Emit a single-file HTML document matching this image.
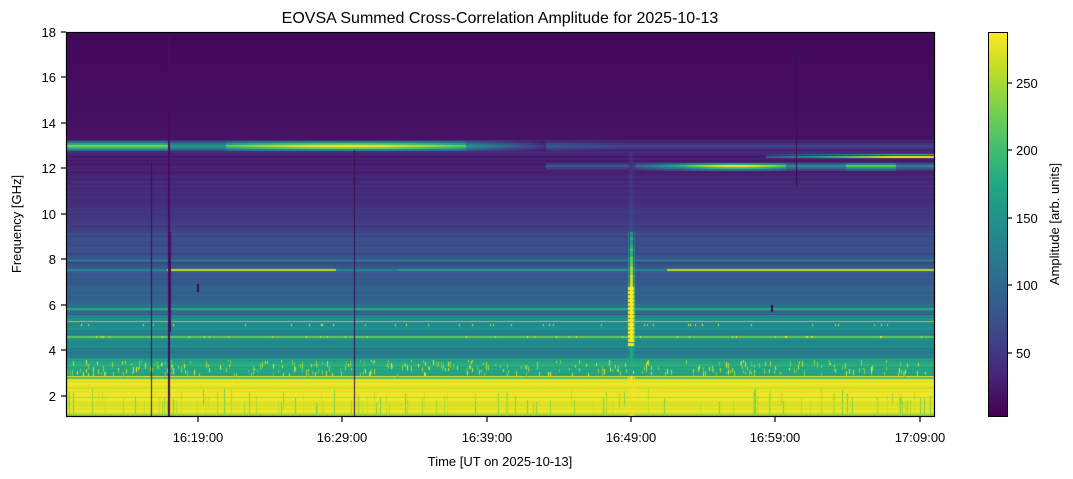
<!DOCTYPE html>
<html><head><meta charset="utf-8"><style>
body{margin:0;background:#fff;width:1073px;height:479px;overflow:hidden;font-family:"Liberation Sans","DejaVu Sans",sans-serif;}
#c{position:absolute;left:66px;top:32px;}
#cb{position:absolute;left:988px;top:32px;}
svg{position:absolute;left:0;top:0;}
</style></head><body>
<canvas id="c" width="868" height="385"></canvas>
<canvas id="cb" width="20" height="385"></canvas>
<svg width="1073" height="479" font-size="13" fill="#000">
<text x="500" y="23" text-anchor="middle" font-size="16">EOVSA Summed Cross-Correlation Amplitude for 2025-10-13</text>
<rect x="66.5" y="32.5" width="868" height="384" fill="none" stroke="#000" stroke-width="1.2"/>
<rect x="988.5" y="32.5" width="19" height="384" fill="none" stroke="#000" stroke-width="1"/>
<g stroke="#000" stroke-width="1.2">
<line x1="61" x2="66" y1="32" y2="32"/><line x1="61" x2="66" y1="77" y2="77"/><line x1="61" x2="66" y1="123" y2="123"/><line x1="61" x2="66" y1="168" y2="168"/><line x1="61" x2="66" y1="214" y2="214"/><line x1="61" x2="66" y1="259" y2="259"/><line x1="61" x2="66" y1="305" y2="305"/><line x1="61" x2="66" y1="350" y2="350"/><line x1="61" x2="66" y1="396" y2="396"/>
<line x1="198" x2="198" y1="417" y2="422"/><line x1="342" x2="342" y1="417" y2="422"/><line x1="487" x2="487" y1="417" y2="422"/><line x1="631" x2="631" y1="417" y2="422"/><line x1="775" x2="775" y1="417" y2="422"/><line x1="920" x2="920" y1="417" y2="422"/>
<line x1="1008" x2="1012" y1="83" y2="83"/><line x1="1008" x2="1012" y1="150" y2="150"/><line x1="1008" x2="1012" y1="218" y2="218"/><line x1="1008" x2="1012" y1="285" y2="285"/><line x1="1008" x2="1012" y1="353" y2="353"/>
</g>
<g text-anchor="end">
<text x="56" y="37">18</text><text x="56" y="82">16</text><text x="56" y="128">14</text><text x="56" y="173">12</text><text x="56" y="219">10</text><text x="56" y="264">8</text><text x="56" y="310">6</text><text x="56" y="355">4</text><text x="56" y="401">2</text>
</g>
<g text-anchor="middle">
<text x="198" y="442">16:19:00</text><text x="342" y="442">16:29:00</text><text x="487" y="442">16:39:00</text><text x="631" y="442">16:49:00</text><text x="775" y="442">16:59:00</text><text x="920" y="442">17:09:00</text>
<text x="500" y="466">Time [UT on 2025-10-13]</text>
</g>
<text transform="translate(21,224) rotate(-90)" text-anchor="middle">Frequency [GHz]</text>
<g>
<text x="1016" y="88">250</text><text x="1016" y="155">200</text><text x="1016" y="223">150</text><text x="1016" y="290">100</text><text x="1016" y="358">50</text>
</g>
<text transform="translate(1059,224) rotate(-90)" text-anchor="middle">Amplitude [arb. units]</text>
</svg>
<script>
const S=[[68,1,84],[72,35,116],[64,67,135],[52,94,141],[41,120,142],[32,144,140],[34,167,132],[68,190,112],[121,209,81],[189,222,38],[253,231,37]];
function vir(t){t=Math.max(0,Math.min(1,t));const p=t*10,i=Math.min(9,Math.floor(p)),f=p-i,a=S[i],b=S[i+1];return `rgb(${a[0]+(b[0]-a[0])*f|0},${a[1]+(b[1]-a[1])*f|0},${a[2]+(b[2]-a[2])*f|0})`;}
let s=12345;function r(){s=(s*1103515245+12345)&0x7fffffff;return s/0x7fffffff;}
const W=868,H=385,c=document.getElementById('c').getContext('2d');
function base(y){
 if(y<108)return 0.02+y*0.0003;
 if(y<124)return 0.08+r()*0.08;
 if(y<200)return 0.05+(y-124)*0.0015+r()*0.05;
 if(y<268)return 0.18+(y-200)*0.0016+r()*0.08;
 if(y<282)return 0.32+r()*0.08;
 if(y<315)return 0.4+r()*0.15;
 if(y<326)return 0.38+r()*0.08;
 if(y<344)return 0.5+r()*0.15;
 return 0.94+r()*0.06;}
const rows=[];
for(let y=0;y<H;y++){const v=base(y);rows.push(v);c.fillStyle=vir(v);c.fillRect(0,y,W,1);}
[[154,0.15],[221,0.2],[230,0.2],[282,0.2],[247,0.25]].forEach(([y,v])=>{c.fillStyle=vir(v);c.fillRect(0,y,W,1);});
// 13 GHz band (fuzzy)
for(let x=0;x<W;x++){let v;
 if(x<104)v=0.8;else if(x<160)v=0.55;else if(x<400)v=0.75+0.25*Math.sin((x-160)/76);else if(x<480)v=0.55-(x-400)/200;else v=Math.max(0.2,0.3-(x-480)/800);
 c.fillStyle=vir(v*0.45);c.fillRect(x,109,1,2);c.fillStyle=vir(v*0.75);c.fillRect(x,111,1,2);
 c.fillStyle=vir(v);c.fillRect(x,113,1,2);c.fillStyle=vir(v*0.8);c.fillRect(x,115,1,2);c.fillStyle=vir(v*0.5);c.fillRect(x,117,1,2);}
// 12 GHz band right
for(let x=480;x<W;x++){let v=0.28;
 if(x>560&&x<620)v=0.28+(x-560)/150;if(x>=620&&x<720)v=0.7+0.3*Math.sin((x-620)/32);if(x>=720&&x<780)v=0.5;if(x>=780&&x<830)v=0.75;if(x>=830)v=0.45;
 c.fillStyle=vir(v*0.6);c.fillRect(x,131,1,2);c.fillStyle=vir(v);c.fillRect(x,133,1,2);c.fillStyle=vir(v*0.7);c.fillRect(x,135,1,2);c.fillStyle=vir(v*0.4);c.fillRect(x,137,1,2);}
for(let x=700;x<W;x++){const v=Math.min(1,0.3+(x-700)/180);c.fillStyle=vir(v*0.7);c.fillRect(x,122,1,1);c.fillStyle=vir(v);c.fillRect(x,124,1,2);}
// 7.5 GHz line
for(let x=0;x<W;x++){let v=0.45;if(x>100&&x<270)v=0.9;if(x>330&&x<560)v=0.55;if(x>600)v=0.9;c.fillStyle=vir(v);c.fillRect(x,237,1,2);}
c.fillStyle=vir(0.5);c.fillRect(0,228,W,1);
c.fillStyle=vir(0.85);c.fillRect(0,289,W,1);c.fillStyle=vir(0.75);c.fillRect(0,304,W,2);
c.fillStyle=vir(0.62);c.fillRect(0,276,W,2);
// speckles
for(let i=0;i<350;i++){const x=r()*W|0,y=328+r()*14|0;c.fillStyle=vir(0.75+r()*0.25);c.fillRect(x,y,1,2+r()*4);}
for(let i=0;i<80;i++){const x=r()*W|0,y=[292,304][i%2];c.fillStyle=vir(0.9+r()*0.1);c.fillRect(x,y,1,2);}
c.fillStyle=vir(0.7);c.fillRect(0,345,W,2);c.fillStyle=vir(0.95);c.fillRect(0,349,W,2);
for(let x=0;x<W;x+=3){c.fillStyle=vir(1);if(r()<0.4)c.fillRect(x,353,1,1);}
// bottom stripes
for(let i=0;i<110;i++){const x=r()*W|0;c.fillStyle=vir(0.78+r()*0.15);c.fillRect(x,356+r()*15,1,10+r()*25);}
for(let y=356;y<H;y+=7+r()*8|0){c.fillStyle=vir(0.85+r()*0.08);c.fillRect(0,y,W,1);}
c.fillStyle=vir(0.82);c.fillRect(0,H-3,W,3);
// burst
for(let y=120;y<H;y++){let v;
 if(y<200)v=rows[y]+0.05;else if(y<310)v=Math.min(1,rows[y]+0.25+(y-200)/120+(r()-0.5)*0.2);else v=Math.max(rows[y],0.6);
 c.fillStyle=vir(v);c.fillRect(564,y,3,1);c.fillStyle=vir((v+rows[y])/2);c.fillRect(562,y,1,1);c.fillRect(568,y,1,1);}
for(let y=255;y<315;y+=4){c.fillStyle=vir(1);c.fillRect(562,y,6,3);}
// vertical dark lines
c.fillStyle='#3a0d50';[[85,130,385],[288,118,385],[730,0,155]].forEach(([x,a,b])=>c.fillRect(x,a,1,b-a));
c.fillStyle='#4a0a60';c.fillRect(102,5,2,380);c.fillRect(103,200,2,100);
c.fillStyle='#440154';c.fillRect(131,252,2,8);c.fillRect(705,273,2,7);
const cb=document.getElementById('cb').getContext('2d');
for(let y=0;y<H;y++){cb.fillStyle=vir(1-y/(H-1));cb.fillRect(0,y,20,1);}
</script>
</body></html>
